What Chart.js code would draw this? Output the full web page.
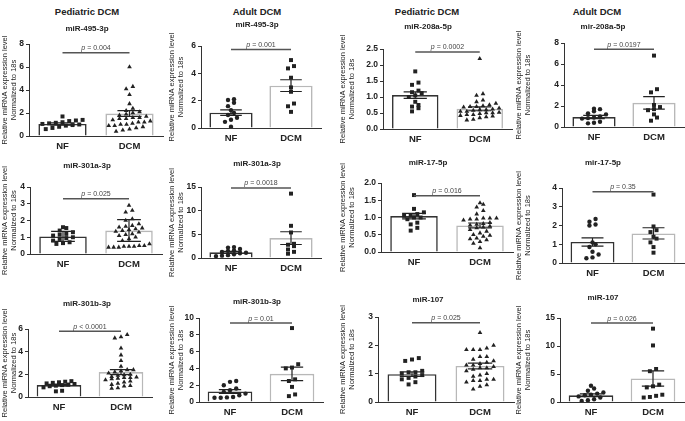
<!DOCTYPE html>
<html><head><meta charset="utf-8">
<script src="https://cdn.jsdelivr.net/npm/chart.js@4/dist/chart.umd.min.js"></script>
<style>
html,body{margin:0;padding:0;background:#fff;}
body{width:685px;height:421px;position:relative;overflow:hidden;font-family:"Liberation Sans",Arial,sans-serif;}
.hdr{position:absolute;top:6px;font-weight:bold;font-size:9.5px;color:#222;transform:translateX(-50%);white-space:nowrap;}
canvas{position:absolute;}
</style></head><body>
<script>
// ---------------- data ----------------
const columnHeaders = ['Pediatric DCM', 'Adult DCM', 'Pediatric DCM', 'Adult DCM'];
const groupLabels = ['NF', 'DCM'];
const panelTitles = ['miR-495-3p', 'miR-495-3p', 'miR-208a-5p', 'mir-208a-5p',
                     'miR-301a-3p', 'miR-301a-3p', 'miR-17-5p', 'mir-17-5p',
                     'miR-301b-3p', 'miR-301b-3p', 'miR-107', 'miR-107'];
const yAxisTitle = ['Relative miRNA expression level', 'Normalized to 18s'];
const yMax  = [8, 6, 2.5, 8,   4, 15, 2, 4,   6, 10, 3, 15];
const yStep = [2, 2, 0.5, 2,   1, 5, 0.5, 1,  2, 2, 1, 5];

const nfValues = [
  [1.7, 1.4, 1.35, 1.3, 1.2, 1.15, 1.1, 1.05, 1.0, 0.95, 0.9, 0.8, 0.7, 0.6],
  [2.1, 2.05, 1.85, 1.6, 1.3, 1.1, 0.95, 0.75, 0.6, 0.45, 0.1],
  [1.8, 1.45, 1.38, 1.2, 1.15, 1.12, 1.05, 1.0, 0.85, 0.75, 0.7, 0.65, 0.55],
  [1.74, 1.7, 1.5, 1.3, 1.2, 1.0, 0.9, 0.85, 0.8, 0.5, 0.4, 0.35],
  [1.6, 1.55, 1.4, 1.3, 1.2, 1.15, 1.1, 1.0, 0.95, 0.9, 0.8, 0.7, 0.65, 0.6],
  [2.3, 2.2, 1.9, 1.6, 1.5, 1.3, 1.1, 1.0, 0.8, 0.6, 0.5, 0.4],
  [1.65, 1.25, 1.15, 1.1, 1.05, 1.05, 1.0, 1.0, 0.95, 0.85, 0.8, 0.7, 0.62],
  [2.35, 2.2, 2.05, 2.0, 1.1, 1.0, 0.85, 0.6, 0.45, 0.3, 0.25],
  [1.4, 1.35, 1.3, 1.25, 1.2, 1.15, 1.1, 1.05, 1.0, 0.95, 0.85, 0.55, 0.5],
  [2.5, 2.4, 2.0, 1.6, 1.4, 1.2, 1.0, 0.8, 0.6, 0.55, 0.5, 0.5],
  [1.55, 1.5, 1.45, 1.1, 1.05, 1.05, 1.0, 0.95, 0.9, 0.85, 0.8, 0.7, 0.62],
  [2.9, 2.4, 2.0, 1.7, 1.5, 1.3, 1.2, 1.0, 0.8, 0.5, 0.3, 0.2]
];
const dcmValues = [
  [6.0, 4.3, 4.1, 3.6, 2.8, 2.4, 2.2, 2.1, 2.0, 1.9, 1.8, 1.7, 1.6, 1.6, 1.5, 1.5, 1.4, 1.3, 1.2, 1.2, 1.1, 1.0, 1.0, 0.9, 0.9, 0.8, 0.7, 0.6, 0.5, 0.4],
  [4.97, 4.53, 4.36, 3.68, 2.97, 2.65, 1.79, 1.59, 1.18],
  [2.2, 1.1, 1.05, 0.9, 0.85, 0.8, 0.75, 0.72, 0.7, 0.7, 0.68, 0.65, 0.62, 0.6, 0.6, 0.58, 0.55, 0.55, 0.52, 0.5, 0.5, 0.48, 0.45, 0.45, 0.42, 0.4, 0.38, 0.35, 0.3, 0.28],
  [6.8, 3.6, 3.3, 2.1, 1.9, 1.7, 1.6, 1.2, 0.9, 0.6],
  [2.9, 2.6, 2.5, 2.1, 2.0, 1.8, 1.7, 1.65, 1.6, 1.55, 1.5, 1.45, 1.4, 1.35, 1.3, 1.2, 1.15, 1.1, 1.0, 0.9, 0.8, 0.6, 0.5, 0.5, 0.45, 0.45, 0.45, 0.4, 0.4, 0.4],
  [13.6, 6.8, 5.4, 3.0, 2.8, 2.5, 1.8, 1.3, 0.9],
  [1.42, 1.38, 1.3, 1.2, 1.1, 0.98, 0.98, 0.98, 0.95, 0.95, 0.92, 0.85, 0.82, 0.8, 0.78, 0.75, 0.72, 0.7, 0.65, 0.6, 0.55, 0.5, 0.48, 0.45, 0.4, 0.38, 0.35, 0.3, 0.25, 0.12],
  [3.65, 1.95, 1.75, 1.65, 1.4, 1.3, 1.1, 0.85, 0.55],
  [5.5, 5.3, 5.2, 4.3, 3.7, 3.2, 2.7, 2.4, 2.4, 2.3, 2.2, 2.1, 2.0, 1.95, 1.9, 1.8, 1.75, 1.7, 1.7, 1.65, 1.6, 1.5, 1.4, 1.3, 1.2, 1.1, 1.0, 0.95, 0.8, 0.75],
  [8.8, 4.5, 4.1, 4.0, 2.7, 2.5, 1.8, 0.9, 0.7],
  [2.45, 2.0, 1.9, 1.85, 1.85, 1.85, 1.6, 1.6, 1.5, 1.45, 1.4, 1.35, 1.3, 1.3, 1.25, 1.2, 1.2, 1.15, 1.1, 1.0, 0.95, 0.9, 0.8, 0.8, 0.75, 0.75, 0.7, 0.6, 0.55, 0.45],
  [13.1, 10.1, 5.9, 5.5, 3.1, 2.8, 2.6, 1.3, 1.1, 0.9, 0.8]
];
const barMeans = [
  [1.05, 1.95], [1.12, 3.1], [1.06, 0.63], [0.95, 2.3],
  [1.05, 1.4], [1.2, 4.2], [1.04, 0.77], [1.12, 1.58],
  [1.05, 2.2], [1.25, 3.35], [0.98, 1.27], [1.2, 4.2]
];
const barErrors = [
  [0.1, 0.25], [0.2, 0.43], [0.1, 0.06], [0.15, 0.6],
  [0.3, 0.65], [0.2, 1.35], [0.08, 0.07], [0.22, 0.3],
  [0.07, 0.22], [0.22, 0.8], [0.08, 0.1], [0.25, 1.35]
];
const pOperators = ['=', '=', '=', '=', '=', '=', '=', '=', '<', '=', '=', '='];
const pValues = ['0.004', '0.001', '0.0002', '0.0197', '0.025', '0.0018', '0.016', '0.35', '0.0001', '0.01', '0.025', '0.026'];
const pLineLevels = [7.25, 5.75, 2.41, 7.4, 3.3, 14.8, 1.63, 3.8, 5.8, 9.4, 2.8, 14.1];

// ---------------- layout (pixels) ----------------
const headerCenters = [87, 257, 427, 597];
const titleCenters = [87, 257, 428, 603];
// [canvasLeft, plotLeft, plotRight, titleY, plotTop, plotBottom]
const frames = [
  [0, 29, 163, 29, 44, 136], [167, 201, 321, 25, 46, 128], [338, 383, 512, 27, 49, 129], [514, 564, 684, 27, 43, 127],
  [0, 30, 162, 166, 187, 254], [167, 201, 321, 164, 187, 258], [338, 381, 513, 163, 183, 252], [514, 562, 684, 163, 188, 263],
  [0, 28, 152, 304, 329, 397], [167, 199, 323, 302, 318, 402], [338, 378, 514, 300, 317, 402], [514, 560, 684, 298, 318, 402]
];
const FONT = '"Liberation Sans", Arial, sans-serif';
const INK = '#222';

columnHeaders.forEach((h, c) => {
  const d = document.createElement('div');
  d.className = 'hdr'; d.textContent = h; d.style.left = headerCenters[c] + 'px';
  document.body.appendChild(d);
});

// deterministic beeswarm spread computed from the values
function swarm(values, top, center) {
  const sorted = values.slice().sort((a, b) => a - b);
  const bin = top / 20;
  const rows = []; let cur = null;
  sorted.forEach(v => {
    if (!cur || v - cur.start > bin) { cur = {start: v, pts: []}; rows.push(cur); }
    cur.pts.push(v);
  });
  const out = [];
  rows.forEach(r => {
    const k = r.pts.length;
    const dx = k > 1 ? Math.min(0.1, 0.62 / (k - 1)) : 0;
    r.pts.forEach((v, j) => out.push({x: center + (j - (k - 1) / 2) * dx, y: v}));
  });
  return out;
}

const annotate = {
  id: 'annotate',
  afterDatasetsDraw(chart, args, opts) {
    const i = opts.panel;
    const ctx = chart.ctx, xs = chart.scales.x, ys = chart.scales.y;
    ctx.save();
    ctx.strokeStyle = INK; ctx.lineWidth = 1.2;
    barMeans[i].forEach((m, g) => {
      const e = barErrors[i][g];
      const cx = xs.getPixelForValue(g);
      const half = xs.getPixelForValue(g + 0.18) - cx;
      const yT = ys.getPixelForValue(m + e), yB = ys.getPixelForValue(Math.max(m - e, 0));
      ctx.beginPath();
      ctx.moveTo(cx, yT); ctx.lineTo(cx, yB);
      ctx.moveTo(cx - half, yT); ctx.lineTo(cx + half, yT);
      ctx.moveTo(cx - half, yB); ctx.lineTo(cx + half, yB);
      ctx.stroke();
    });
    const py = ys.getPixelForValue(pLineLevels[i]);
    const x0 = xs.getPixelForValue(0), x1 = xs.getPixelForValue(1);
    ctx.strokeStyle = '#555'; ctx.lineWidth = 1.5;
    ctx.beginPath(); ctx.moveTo(x0, py); ctx.lineTo(x1, py); ctx.stroke();
    const it = 'italic 7px ' + FONT, rg = '7px ' + FONT;
    const rest = ' ' + pOperators[i] + ' ' + pValues[i];
    ctx.font = it; const w1 = ctx.measureText('p').width;
    ctx.font = rg; const w2 = ctx.measureText(rest).width;
    const sx = (x0 + x1) / 2 - (w1 + w2) / 2;
    ctx.fillStyle = '#444'; ctx.textBaseline = 'alphabetic'; ctx.textAlign = 'left';
    ctx.font = it; ctx.fillText('p', sx, py - 2.5);
    ctx.font = rg; ctx.fillText(rest, sx + w1, py - 2.5);
    ctx.restore();
  }
};

panelTitles.forEach((title, i) => {
  const [cl, pl, pr, ty, pt, pb] = frames[i];
  const col = i % 4;
  const adult = col % 2 === 1;
  const ct = ty - 5;
  const xh = 22;
  const cv = document.createElement('canvas');
  const w = Math.round(2 * (titleCenters[col] - cl)), h = pb - ct + xh;
  const padRight = Math.max(cl + w - pr, 0);
  cv.width = w; cv.height = h;
  cv.style.left = cl + 'px'; cv.style.top = ct + 'px';
  cv.style.width = w + 'px'; cv.style.height = h + 'px';
  document.body.appendChild(cv);
  const dec = yStep[i] < 1 ? 1 : 0;
  new Chart(cv, {
    type: 'bar',
    data: {
      datasets: [
        { type: 'bar', data: barMeans[i].map((m, g) => ({x: g, y: m})), order: 3, grouped: false,
          barPercentage: 0.9, categoryPercentage: 0.8,
          backgroundColor: '#ffffff', borderColor: ['#333333', '#b8b8b8'], borderWidth: 1.6 },
        { type: 'scatter', data: swarm(nfValues[i], yMax[i], 0), order: 1,
          pointStyle: adult ? 'circle' : 'rect', pointRadius: adult ? 2.2 : 2.8,
          backgroundColor: INK, borderColor: INK, borderWidth: 0 },
        { type: 'scatter', data: swarm(dcmValues[i], yMax[i], 1), order: 1,
          pointStyle: adult ? 'rect' : 'triangle', pointRadius: adult ? 2.8 : 2.7,
          backgroundColor: INK, borderColor: INK, borderWidth: 0 }
      ]
    },
    options: {
      responsive: false, animation: false, devicePixelRatio: 1,
      layout: { padding: 0 },
      plugins: {
        legend: { display: false }, tooltip: { enabled: false },
        title: { display: true, fullSize: true, text: title, color: INK, font: { family: FONT, size: 8, weight: 'bold' },
                 padding: { top: 0, bottom: pt - ct - 9.6 } },
        annotate: { panel: i }
      },
      scales: {
        x: { type: 'linear', min: -0.5, max: 1.5, offset: false, position: 'bottom',
             afterBuildTicks(s) { s.ticks = groupLabels.map((_, g) => ({ value: g })); },
             grid: { display: false, drawTicks: false },
             border: { display: true, color: '#333', width: 1 },
             ticks: { color: INK, padding: 5, autoSkip: false, maxRotation: 0, minRotation: 0,
                      font: { family: FONT, size: 9.5, weight: 'bold' },
                      callback: v => groupLabels[v] !== undefined ? groupLabels[v] : '' },
             afterFit(s) { s.height = xh; } },
        y: { type: 'linear', min: 0, max: yMax[i], offset: false,
             grid: { display: true, drawOnChartArea: false, drawTicks: true, tickLength: 3, color: '#333' },
             border: { display: true, color: '#333', width: 1 },
             ticks: { stepSize: yStep[i], color: INK, padding: 2, font: { family: FONT, size: 8.5, weight: 'bold' },
                      callback: v => Number(v).toFixed(dec) },
             title: { display: true, text: yAxisTitle, color: INK, font: { family: FONT, size: 7.5, lineHeight: 1.2 },
                      padding: { top: 0.5, bottom: 0 } },
             afterFit(s) { s.width = pl - cl; } },
        // empty spacer axis on the right so the title can be centred on the column
        yPad: { type: 'linear', position: 'right', display: true,
                grid: { display: false, drawTicks: false }, border: { display: false },
                ticks: { display: false }, title: { display: false },
                afterFit(s) { s.width = padRight; } }
      }
    },
    plugins: [annotate]
  });
});
</script>
</body></html>
